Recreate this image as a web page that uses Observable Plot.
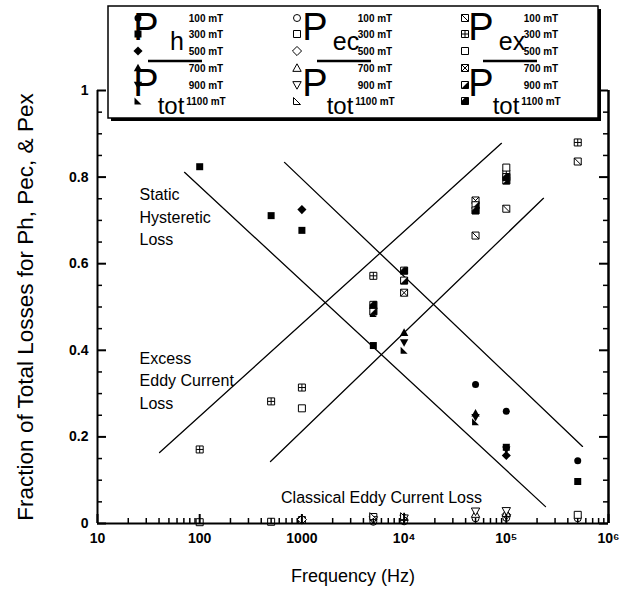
<!DOCTYPE html>
<html><head><meta charset="utf-8">
<script src="https://cdn.jsdelivr.net/npm/d3@7"></script>
<script src="https://cdn.jsdelivr.net/npm/@observablehq/plot@0.6"></script>
<style>body{margin:0;background:#fff;}</style>
</head><body><div id="chart"></div><script>
// ---- data ----
const freq = [100, 500, 1000, 5000, 10000, 50000, 100000, 500000];
const fieldLabels = ["100 mT", "300 mT", "500 mT", "700 mT", "900 mT", "1100 mT"];
// Ph / Ptot
const ph100  = [null, null, null, null, null, 0.321, 0.259, 0.145];
const ph300  = [0.824, 0.711, 0.677, 0.411, null, null, 0.176, 0.097];
const ph500  = [null, null, 0.725, null, null, null, 0.157, null];
const ph700  = [null, null, null, null, 0.441, 0.255, null, null];
const ph900  = [null, null, null, 0.490, 0.418, 0.245, 0.170, null];
const ph1100 = [null, null, null, 0.485, 0.400, 0.235, null, null];
// Pec / Ptot
const pec100  = [null, null, null, 0.004, 0.005, 0.012, 0.013, 0.012];
const pec300  = [0.003, 0.004, 0.008, 0.015, null, null, null, 0.020];
const pec500  = [null, null, 0.009, null, null, null, 0.020, null];
const pec700  = [null, null, null, null, 0.015, 0.022, 0.024, null];
const pec900  = [null, null, null, 0.008, 0.012, 0.028, 0.029, null];
const pec1100 = [null, null, null, 0.017, 0.017, null, null, null];
// Pex / Ptot
const pex100  = [null, null, null, null, null, 0.665, 0.727, 0.836];
const pex300  = [0.171, 0.282, 0.314, 0.572, null, null, 0.808, 0.880];
const pex500  = [null, null, 0.266, null, null, null, 0.822, null];
const pex700  = [null, null, null, null, 0.533, 0.746, null, null];
const pex900  = [null, null, null, 0.490, 0.561, 0.735, 0.792, null];
const pex1100 = [null, null, null, 0.505, 0.584, 0.723, 0.800, null];
// guide lines (two end points each)
const guideA_f = [71, 242000],  guideA_v = [0.811, 0.039];
const guideB_f = [676, 557000], guideB_v = [0.834, 0.178];
const guideC_f = [40.5, 89700], guideC_v = [0.164, 0.878];
const guideD_f = [493, 231000], guideD_v = [0.143, 0.751];
// annotations
const annText = ["Static\nHysteretic\nLoss", "Excess\nEddy Current\nLoss", "Classical Eddy Current Loss"];
const annF = [25.8, 25.8, 6010];
const annV = [0.711, 0.333, 0.060];
// ticks
const yTickValues = [0, 0.2, 0.4, 0.6, 0.8, 1];
const yTickLabels = ["0", "0.2", "0.4", "0.6", "0.8", "1"];
const xTickValues = [10, 100, 1000, 10000, 100000, 1000000];
const xTickLabels = ["10", "100", "1000", "10\u2074", "10\u2075", "10\u2076"];

// ---- symbols ----
function sym(fn){ return {draw(c, size){ fn(c, Math.sqrt(size / Math.PI)); }}; }
const SQ = (c,h)=>{c.moveTo(-h,-h);c.lineTo(h,-h);c.lineTo(h,h);c.lineTo(-h,h);c.closePath();};
const symCircle = sym((c,h)=>{c.moveTo(h,0);c.arc(0,0,h,0,2*Math.PI);});
const symSquare = sym(SQ);
const symDiamond = sym((c,h)=>{const d=h*1.3;c.moveTo(0,-d);c.lineTo(d,0);c.lineTo(0,d);c.lineTo(-d,0);c.closePath();});
const symTri = sym((c,h)=>{const d=h*1.2;c.moveTo(0,-d);c.lineTo(d,d*0.8);c.lineTo(-d,d*0.8);c.closePath();});
const symTriDown = sym((c,h)=>{const d=h*1.2;c.moveTo(0,d);c.lineTo(d,-d*0.8);c.lineTo(-d,-d*0.8);c.closePath();});
const symRightTri = sym((c,h)=>{c.moveTo(-h,-h);c.lineTo(h,h);c.lineTo(-h,h);c.closePath();});
const symSqDiag = sym((c,h)=>{SQ(c,h);c.moveTo(-h,-h);c.lineTo(h,h);});
const symSqPlus = sym((c,h)=>{SQ(c,h);c.moveTo(0,-h);c.lineTo(0,h);c.moveTo(-h,0);c.lineTo(h,0);});
const symSqX = sym((c,h)=>{SQ(c,h);c.moveTo(-h,-h);c.lineTo(h,h);c.moveTo(h,-h);c.lineTo(-h,h);});
const symHalfLR = sym((c,h)=>{c.moveTo(-h,h);c.lineTo(h,-h);c.lineTo(h,h);c.closePath();});
const symMostLR = sym((c,h)=>{c.moveTo(-h,0);c.lineTo(0,-h);c.lineTo(h,-h);c.lineTo(h,h);c.lineTo(-h,h);c.closePath();});

const groups = [
  {arrays: [ph100, ph300, ph500, ph700, ph900, ph1100],
   symbols: [symCircle, symSquare, symDiamond, symTri, symTriDown, symRightTri],
   overlays: [null,null,null,null,null,null], fill: "black", stroke: "none",
   legend: {sym: 138, L: 148, sub: "h"}},
  {arrays: [pec100, pec300, pec500, pec700, pec900, pec1100],
   symbols: [symCircle, symSquare, symDiamond, symTri, symTriDown, symRightTri],
   overlays: [null,null,null,null,null,null], fill: "white", stroke: "black",
   legend: {sym: 297, L: 317, sub: "ec"}},
  {arrays: [pex100, pex300, pex500, pex700, pex900, pex1100],
   symbols: [symSqDiag, symSqPlus, symSquare, symSqX, symSquare, symSquare],
   overlays: [null,null,null,null,symHalfLR,symMostLR], fill: "white", stroke: "black",
   legend: {sym: 465, L: 483, sub: "ex"}}
];
const R = 3.5;

const marks = [];
// guide lines
[[guideA_f, guideA_v],[guideB_f, guideB_v],[guideC_f, guideC_v],[guideD_f, guideD_v]].forEach(([fs, vs]) => {
  marks.push(Plot.line(fs.map((f,i)=>({f, v: vs[i]})), {x: "f", y: "v", stroke: "black", strokeWidth: 1.3}));
});
// points
groups.forEach(g => {
  g.arrays.forEach((arr, k) => {
    const data = freq.map((f,i)=>({f, v: arr[i]})).filter(d => d.v != null);
    marks.push(Plot.dot(data, {x: "f", y: "v", symbol: g.symbols[k], r: R, fill: g.fill, stroke: g.stroke, strokeWidth: 1}));
    if (g.overlays[k]) marks.push(Plot.dot(data, {x: "f", y: "v", symbol: g.overlays[k], r: R, fill: "black", stroke: "black", strokeWidth: 0.5}));
  });
});
// annotations
const ann = annText.map((t,i)=>({t, f: annF[i], v: annV[i]}));
marks.push(Plot.text(ann.slice(0, 2), {x: "f", y: "v", text: "t", textAnchor: "start", fontSize: 16, lineHeight: 1.4, fill: "black"}));
marks.push(Plot.text(ann.slice(2), {x: "f", y: "v", text: "t", textAnchor: "middle", fontSize: 16, fill: "black"}));

// axes frame
const yMinor = d3.range(1, 20).map(i => i/20).filter(v => Math.abs(v*5 - Math.round(v*5)) > 1e-6);
const xMinor = [];
[10,100,1000,10000,100000].forEach(d => { for (let m = 2; m <= 9; m++) xMinor.push(d*m); });
const FW = 511, FH = 433;
marks.push(
  Plot.tickY(yTickValues, {y: d=>d, insetRight: FW-9, strokeWidth: 2}),
  Plot.tickY(yMinor, {y: d=>d, insetRight: FW-5, strokeWidth: 1.5}),
  Plot.tickY(yTickValues, {y: d=>d, insetLeft: FW-9, strokeWidth: 2}),
  Plot.tickY(yMinor, {y: d=>d, insetLeft: FW-5, strokeWidth: 1.5}),
  Plot.tickX(xTickValues, {x: d=>d, insetTop: FH-9, strokeWidth: 2}),
  Plot.tickX(xMinor, {x: d=>d, insetTop: FH-5, strokeWidth: 1.5}),
  Plot.ruleX([10], {strokeWidth: 2}),
  Plot.ruleX([1000000], {strokeWidth: 2.5}),
  Plot.ruleY([0], {strokeWidth: 2}),
  Plot.axisY({ticks: yTickValues, tickSize: 0, tickPadding: 9, label: null,
    tickFormat: d => yTickLabels[yTickValues.indexOf(d)], fontSize: 14, fontWeight: "bold"}),
  Plot.axisX({ticks: xTickValues, tickSize: 0, tickPadding: 10, label: null,
    tickFormat: d => xTickLabels[xTickValues.indexOf(d)], fontSize: 14, fontWeight: "bold"}),
  Plot.text(["Frequency (Hz)"], {frameAnchor: "bottom", textAnchor: "middle", dy: 58, text: d=>d, fontSize: 18, fill: "black"}),
  Plot.text(["Fraction of Total Losses for Ph, Pec, & Pex"], {frameAnchor: "left", textAnchor: "middle", dx: -72, rotate: -90, text: d=>d, fontSize: 22.5, fill: "black"})
);

const chart = Plot.plot({
  width: 626, height: 599,
  marginLeft: 97, marginRight: 18, marginTop: 90, marginBottom: 76,
  x: {type: "log", domain: [10, 1000000]},
  y: {domain: [0, 1]},
  style: {fontFamily: "'Liberation Sans', Arial, sans-serif", fontSize: "14px", background: "white", color: "black", overflow: "visible"},
  marks
});
document.getElementById("chart").appendChild(chart);

// ---- legend ----
const svg = d3.select(chart);
const lg = svg.append("g").attr("font-family", "'Liberation Sans', Arial, sans-serif");
lg.append("rect").attr("x", 111).attr("y", 9).attr("width", 490).attr("height", 112).attr("fill", "black");
lg.append("rect").attr("x", 108).attr("y", 6).attr("width", 490).attr("height", 112)
  .attr("fill", "white").attr("stroke", "black").attr("stroke-width", 1.5);
const rowsY = [18, 34, 51, 68, 85, 101];
const symPath = d3.symbol().size(Math.PI * R * R);
groups.forEach(g => {
  const {sym: sx, L, sub} = g.legend;
  rowsY.forEach((ry, k) => {
    lg.append("path").attr("transform", `translate(${sx},${ry})`)
      .attr("d", symPath.type(g.symbols[k])())
      .attr("fill", g.fill).attr("stroke", g.stroke).attr("stroke-width", 1);
    if (g.overlays[k]) lg.append("path").attr("transform", `translate(${sx},${ry})`)
      .attr("d", symPath.type(g.overlays[k])()).attr("fill", "black");
    lg.append("text").attr("x", L + 58).attr("y", ry + 3.5).attr("font-size", 10)
      .attr("font-weight", "bold").text(fieldLabels[k]);
  });
  lg.append("text").attr("x", L - 2).attr("y", 40).attr("font-size", 38).text("P");
  lg.append("text").attr("x", L + 29).attr("y", 50).attr("font-size", 25).text(sub);
  lg.append("line").attr("x1", L).attr("x2", L + 54).attr("y1", 61).attr("y2", 61)
    .attr("stroke", "black").attr("stroke-width", 2.5);
  lg.append("text").attr("x", L - 2).attr("y", 96).attr("font-size", 38).text("P");
  lg.append("text").attr("x", L + 23).attr("y", 114).attr("font-size", 24).text("tot");
});
</script></body></html>
